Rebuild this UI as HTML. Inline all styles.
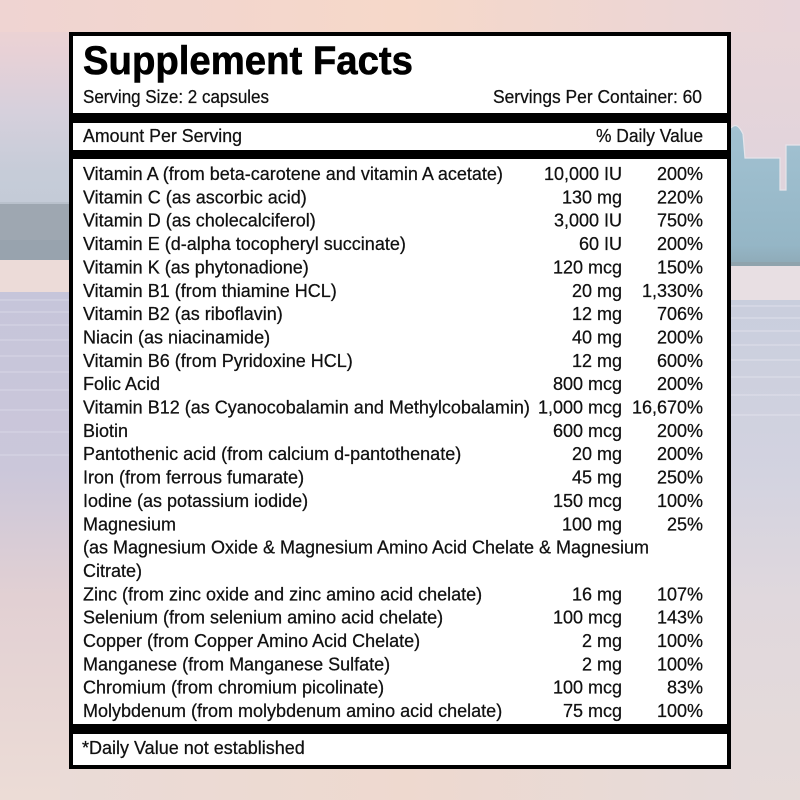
<!DOCTYPE html>
<html><head><meta charset="utf-8">
<style>
html,body{margin:0;padding:0;background:#e9d8d6;}
svg{display:block;}
text{font-family:"Liberation Sans",Arial,sans-serif;fill:#111;}
.b text{stroke:#111;stroke-width:0.25px;}
</style></head>
<body>
<svg width="800" height="800" viewBox="0 0 800 800" xmlns="http://www.w3.org/2000/svg">
<defs>
<linearGradient id="leftg" x1="0" y1="0" x2="0" y2="203" gradientUnits="userSpaceOnUse">
<stop offset="0" stop-color="#f0d5d0"/>
<stop offset="0.25" stop-color="#e8d1d6"/>
<stop offset="0.55" stop-color="#d6d0dc"/>
<stop offset="0.85" stop-color="#c6ccd8"/>
<stop offset="1" stop-color="#c4cbd7"/>
</linearGradient>
<linearGradient id="rightsky" x1="0" y1="0" x2="0" y2="1">
<stop offset="0" stop-color="#ead6d8"/>
<stop offset="1" stop-color="#dcd3de"/>
</linearGradient>
<linearGradient id="topg" x1="0" y1="0" x2="1" y2="0">
<stop offset="0" stop-color="#efd4d2"/>
<stop offset="0.5" stop-color="#f6d8c9"/>
<stop offset="1" stop-color="#e8d5da"/>
</linearGradient>
<linearGradient id="botg" x1="0" y1="0" x2="1" y2="0">
<stop offset="0" stop-color="#eadbd7"/>
<stop offset="0.5" stop-color="#eed9cf"/>
<stop offset="1" stop-color="#e5dada"/>
</linearGradient>
<linearGradient id="skyl" x1="0" y1="0" x2="0" y2="1">
<stop offset="0" stop-color="#a2c2d2"/>
<stop offset="0.85" stop-color="#95b6c6"/>
<stop offset="1" stop-color="#8ea9b6"/>
</linearGradient>
<linearGradient id="lwater" x1="0" y1="0" x2="0" y2="1">
<stop offset="0" stop-color="#c6c5da"/>
<stop offset="0.35" stop-color="#cbc7da"/>
<stop offset="0.6" stop-color="#e2d0d3"/>
<stop offset="1" stop-color="#ecdcd6"/>
</linearGradient>
<linearGradient id="rwater" x1="0" y1="0" x2="0" y2="1">
<stop offset="0" stop-color="#c9cedd"/>
<stop offset="0.35" stop-color="#d3d3e0"/>
<stop offset="0.6" stop-color="#e0d8dd"/>
<stop offset="1" stop-color="#e6dbd9"/>
</linearGradient>
</defs>

<rect x="0" y="0" width="800" height="800" fill="#e9d9d7"/>
<!-- left strip -->
<rect x="0" y="0" width="70" height="203" fill="url(#leftg)"/>
<rect x="0" y="202" width="70" height="2" fill="#b9c1cc"/>
<rect x="0" y="204" width="70" height="56" fill="#9ea7b1"/>
<rect x="0" y="240" width="70" height="20" fill="#98a3ae"/>
<rect x="0" y="260" width="70" height="32" fill="#ecdbd8"/>
<rect x="0" y="292" width="70" height="508" fill="url(#lwater)"/>
<g stroke="#dcdbe8" stroke-width="1" opacity="0.8">
<line x1="0" y1="300" x2="70" y2="300"/><line x1="0" y1="312" x2="70" y2="312"/>
<line x1="0" y1="325" x2="70" y2="325"/><line x1="0" y1="340" x2="70" y2="340"/>
<line x1="0" y1="356" x2="70" y2="356"/><line x1="0" y1="372" x2="70" y2="372"/>
<line x1="0" y1="390" x2="70" y2="390"/><line x1="0" y1="410" x2="70" y2="410"/>
<line x1="0" y1="432" x2="70" y2="432"/><line x1="0" y1="455" x2="70" y2="455"/>
</g>
<!-- right strip -->
<rect x="730" y="0" width="70" height="266" fill="url(#rightsky)"/>
<path d="M731,266 L731,128 Q737,121 743,134 L745,158 L780,158 L780,190 L786,190 L786,145 L800,145 L800,266 Z" fill="url(#skyl)"/>
<path d="M731,128 Q737,121 743,134 L745,158 L780,158 L780,190 L786,190 L786,145 L800,145" fill="none" stroke="#e6e4ea" stroke-width="1.2"/>
<rect x="730" y="262" width="70" height="4" fill="#8fa3ad"/>
<rect x="730" y="266" width="70" height="34" fill="#e8dfe3"/>
<rect x="730" y="300" width="70" height="500" fill="url(#rwater)"/>
<g stroke="#e4e4ee" stroke-width="1" opacity="0.8">
<line x1="730" y1="306" x2="800" y2="306"/><line x1="730" y1="318" x2="800" y2="318"/>
<line x1="730" y1="331" x2="800" y2="331"/><line x1="730" y1="345" x2="800" y2="345"/>
<line x1="730" y1="360" x2="800" y2="360"/><line x1="730" y1="377" x2="800" y2="377"/>
<line x1="730" y1="395" x2="800" y2="395"/><line x1="730" y1="415" x2="800" y2="415"/>
</g>
<rect x="0" y="0" width="800" height="32" fill="url(#topg)"/>
<rect x="60" y="769" width="690" height="31" fill="url(#botg)"/>

<!-- label box -->
<rect x="69" y="32" width="662" height="737" fill="#000"/>
<rect x="73" y="36" width="654" height="77" fill="#fff"/>
<rect x="73" y="123" width="654" height="27" fill="#fff"/>
<rect x="73" y="159" width="654" height="565" fill="#fff"/>
<rect x="73" y="734" width="654" height="31" fill="#fff"/>

<text x="83" y="74" font-size="40" font-weight="bold" textLength="330" lengthAdjust="spacingAndGlyphs" style="fill:#000;stroke:#000;stroke-width:0.6px">Supplement Facts</text>
<g class="b">
<text x="83" y="103" font-size="18" textLength="186" lengthAdjust="spacingAndGlyphs">Serving Size: 2 capsules</text>
<text x="493" y="103" font-size="18" textLength="209" lengthAdjust="spacingAndGlyphs">Servings Per Container: 60</text>
<text x="83" y="142" font-size="18" textLength="159" lengthAdjust="spacingAndGlyphs">Amount Per Serving</text>
<text x="596" y="142" font-size="18" textLength="107" lengthAdjust="spacingAndGlyphs">% Daily Value</text>
</g>

<g font-size="18" class="b">
<text x="83" y="180">Vitamin A (from beta-carotene and vitamin A acetate)</text>
<text x="83" y="203.35">Vitamin C (as ascorbic acid)</text>
<text x="83" y="226.7">Vitamin D (as cholecalciferol)</text>
<text x="83" y="250.05">Vitamin E (d-alpha tocopheryl succinate)</text>
<text x="83" y="273.4">Vitamin K (as phytonadione)</text>
<text x="83" y="296.75">Vitamin B1 (from thiamine HCL)</text>
<text x="83" y="320.1">Vitamin B2 (as riboflavin)</text>
<text x="83" y="343.45">Niacin (as niacinamide)</text>
<text x="83" y="366.8">Vitamin B6 (from Pyridoxine HCL)</text>
<text x="83" y="390.15">Folic Acid</text>
<text x="83" y="413.5">Vitamin B12 (as Cyanocobalamin and Methylcobalamin)</text>
<text x="83" y="436.85">Biotin</text>
<text x="83" y="460.2">Pantothenic acid (from calcium d-pantothenate)</text>
<text x="83" y="483.55">Iron (from ferrous fumarate)</text>
<text x="83" y="506.9">Iodine (as potassium iodide)</text>
<text x="83" y="530.25">Magnesium</text>
<text x="83" y="553.6" textLength="566" lengthAdjust="spacing">(as Magnesium Oxide &amp; Magnesium Amino Acid Chelate &amp; Magnesium</text>
<text x="83" y="576.95">Citrate)</text>
<text x="83" y="600.3">Zinc (from zinc oxide and zinc amino acid chelate)</text>
<text x="83" y="623.65">Selenium (from selenium amino acid chelate)</text>
<text x="83" y="647">Copper (from Copper Amino Acid Chelate)</text>
<text x="83" y="670.35">Manganese (from Manganese Sulfate)</text>
<text x="83" y="693.7">Chromium (from chromium picolinate)</text>
<text x="83" y="717.05">Molybdenum (from molybdenum amino acid chelate)</text>
</g>

<g font-size="18" text-anchor="end" class="b">
<text x="622" y="180">10,000 IU</text>
<text x="622" y="203.35">130 mg</text>
<text x="622" y="226.7">3,000 IU</text>
<text x="622" y="250.05">60 IU</text>
<text x="622" y="273.4">120 mcg</text>
<text x="622" y="296.75">20 mg</text>
<text x="622" y="320.1">12 mg</text>
<text x="622" y="343.45">40 mg</text>
<text x="622" y="366.8">12 mg</text>
<text x="622" y="390.15">800 mcg</text>
<text x="622" y="413.5">1,000 mcg</text>
<text x="622" y="436.85">600 mcg</text>
<text x="622" y="460.2">20 mg</text>
<text x="622" y="483.55">45 mg</text>
<text x="622" y="506.9">150 mcg</text>
<text x="622" y="530.25">100 mg</text>
<text x="622" y="600.3">16 mg</text>
<text x="622" y="623.65">100 mcg</text>
<text x="622" y="647">2 mg</text>
<text x="622" y="670.35">2 mg</text>
<text x="622" y="693.7">100 mcg</text>
<text x="622" y="717.05">75 mcg</text>
</g>

<g font-size="18" text-anchor="end" class="b">
<text x="703" y="180">200%</text>
<text x="703" y="203.35">220%</text>
<text x="703" y="226.7">750%</text>
<text x="703" y="250.05">200%</text>
<text x="703" y="273.4">150%</text>
<text x="703" y="296.75">1,330%</text>
<text x="703" y="320.1">706%</text>
<text x="703" y="343.45">200%</text>
<text x="703" y="366.8">600%</text>
<text x="703" y="390.15">200%</text>
<text x="703" y="413.5">16,670%</text>
<text x="703" y="436.85">200%</text>
<text x="703" y="460.2">200%</text>
<text x="703" y="483.55">250%</text>
<text x="703" y="506.9">100%</text>
<text x="703" y="530.25">25%</text>
<text x="703" y="600.3">107%</text>
<text x="703" y="623.65">143%</text>
<text x="703" y="647">100%</text>
<text x="703" y="670.35">100%</text>
<text x="703" y="693.7">83%</text>
<text x="703" y="717.05">100%</text>
</g>

<g class="b"><text x="82" y="754" font-size="18">*Daily Value not established</text></g>
</svg>
</body></html>
